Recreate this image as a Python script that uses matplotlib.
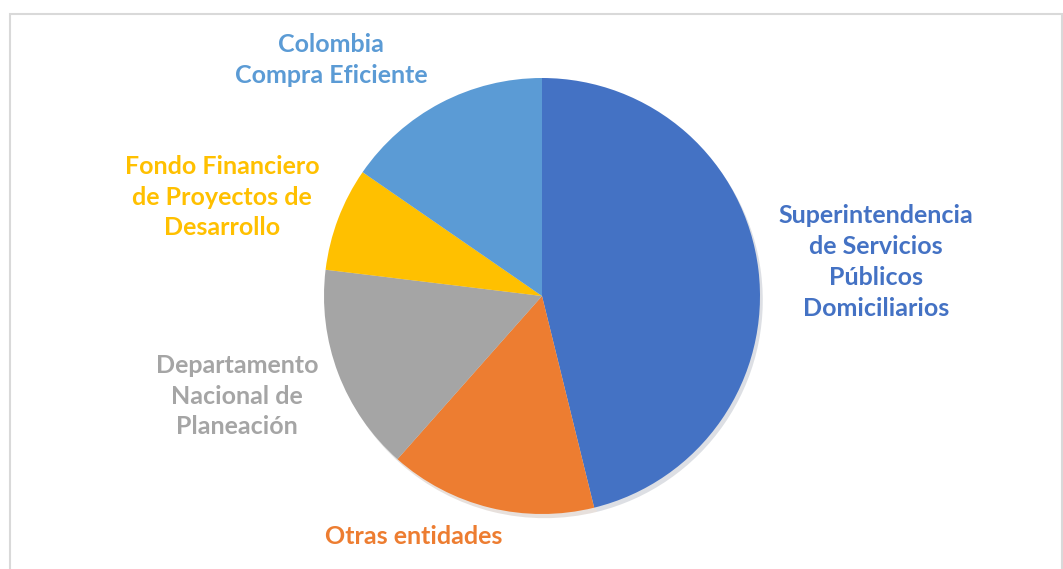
import matplotlib
matplotlib.use("Agg")
import matplotlib.pyplot as plt
from matplotlib.patches import Rectangle

categories = ["Superintendencia\nde Servicios\nPúblicos\nDomiciliarios",
              "Otras entidades",
              "Departamento\nNacional de\nPlaneación",
              "Fondo Financiero\nde Proyectos de\nDesarrollo",
              "Colombia\nCompra Eficiente"]
values = [6, 2, 2, 1, 2]
colors = ["#4472C4", "#ED7D31", "#A5A5A5", "#FFC000", "#5B9BD5"]

# label centres in pixel coordinates (x from left, y from top)
label_pos = [(876, 262), (414, 537), (237, 396), (222, 197), (331, 60)]

W, H = 1063, 569
fig = plt.figure(figsize=(W / 100, H / 100), dpi=100)
ax = fig.add_axes([0, 0, 1, 1])
ax.set_xlim(0, W)
ax.set_ylim(0, H)
ax.set_aspect("equal")
ax.axis("off")

ax.add_patch(Rectangle((9.5, -10), W - 11, H - 14 + 10, fill=False,
                       edgecolor="#D9D9D9", linewidth=1.5))

cx, cy, r = 542, H - 296, 218
ax.pie(values, colors=colors, startangle=90, counterclock=False,
       center=(cx, cy), radius=r, frame=True,
       shadow={"ox": 2, "oy": -3, "shade": 0.6, "alpha": 0.15},
       wedgeprops=dict(linewidth=0))
ax.set_xlim(0, W)
ax.set_ylim(0, H)
ax.axis("off")

for lab, (x, y), c in zip(categories, label_pos, colors):
    ax.text(x, H - y, lab, color=c, ha="center", va="center",
            fontsize=18, fontweight="bold", family=["Lato", "DejaVu Sans"],
            linespacing=1.41)

fig.savefig("out.png", dpi=100)
